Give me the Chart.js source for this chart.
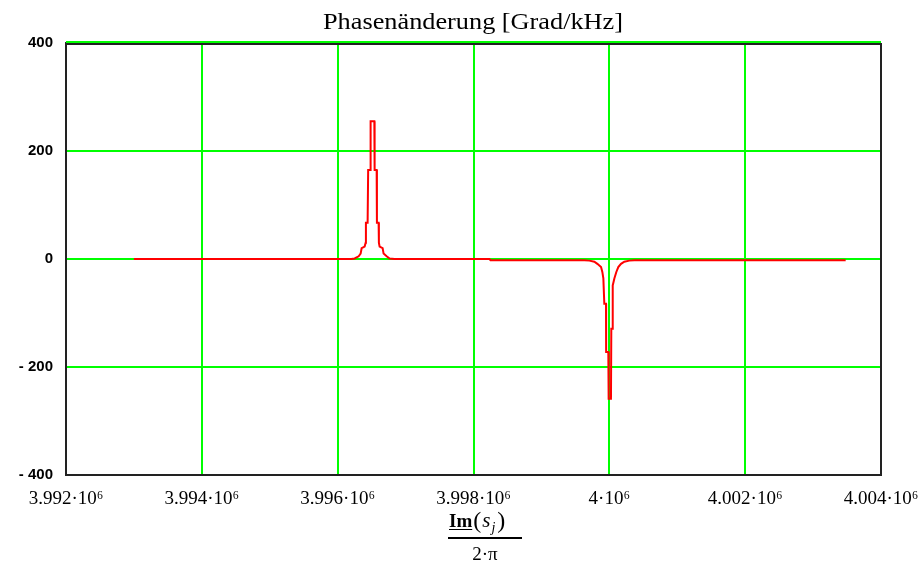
<!DOCTYPE html>
<html>
<head>
<meta charset="utf-8">
<script src="https://cdn.jsdelivr.net/npm/chart.js@4/dist/chart.umd.min.js"></script>
<style>
  html, body { margin: 0; padding: 0; background: #fff; }
  canvas { display: block; }
</style>
</head>
<body>
<canvas id="chart" width="920" height="570"></canvas>
<script>
const titleText = 'Phasenänderung [Grad/kHz]';
const xTicks = [3992000, 3994000, 3996000, 3998000, 4000000, 4002000, 4004000];
const xTickLabels = ['3.992·10⁶', '3.994·10⁶', '3.996·10⁶', '3.998·10⁶', '4·10⁶', '4.002·10⁶', '4.004·10⁶'];
const yTicks = [-400, -200, 0, 200, 400];
const yTickLabels = ['- 400', '- 200', '0', '200', '400'];

// Im(s_j)/(2*pi) in Hz, phase change in Grad/kHz
const freq = [
  3993000, 3996200, 3996250, 3996279, 3996309, 3996338, 3996353, 3996397, 3996412, 3996416,
  3996441, 3996449, 3996480, 3996485, 3996540, 3996544, 3996574, 3996578, 3996603, 3996607,
  3996618, 3996662, 3996676, 3996721, 3996765, 3996838, 3998235, 3998250, 3999632, 3999706,
  3999779, 3999824, 3999878, 3999897, 3999912, 3999926, 3999951, 3999953, 3999985, 3999990,
  4000024, 4000029, 4000048, 4000050, 4000074, 4000103, 4000132, 4000172, 4000221, 4000294,
  4000368, 4003480
];
const phase = [
  0, 0, 1, 3, 5, 10, 20, 23, 30, 67,
  67, 165, 165, 255, 255, 165, 165, 67, 67, 30,
  23, 20, 10, 5, 1, 0, 0, -2.5, -2.5, -3,
  -5, -9, -15, -24, -36, -83, -83, -172, -172, -259,
  -259, -129, -129, -49, -36, -24, -15, -9, -5, -3,
  -2.5, -2.5
];

const frame = {
  id: 'frame',
  afterDatasetsDraw(chart) {
    const { ctx, chartArea: a } = chart;
    ctx.save();
    ctx.strokeStyle = '#222';
    ctx.lineWidth = 2;
    ctx.beginPath();
    ctx.moveTo(a.left, a.top + 1);
    ctx.lineTo(a.right, a.top + 1);
    ctx.lineTo(a.right, a.bottom);
    ctx.stroke();
    ctx.strokeStyle = '#00ff00';
    ctx.beginPath();
    ctx.moveTo(a.left, a.top - 1);
    ctx.lineTo(a.right, a.top - 1);
    ctx.stroke();

    // title
    ctx.fillStyle = '#000';
    ctx.textBaseline = 'alphabetic';
    ctx.font = '24px "Liberation Serif"';
    const w = ctx.measureText(titleText).width;
    ctx.translate(473, 29);
    ctx.scale(300 / w, 1);
    ctx.textAlign = 'center';
    ctx.fillText(titleText, 0, 0);
    ctx.restore();

    // x axis title: Im(s_j) / (2·π)
    ctx.save();
    ctx.fillStyle = '#000';
    ctx.strokeStyle = '#000';
    ctx.textBaseline = 'alphabetic';
    ctx.textAlign = 'left';
    let x = 449;
    const base = 527;
    ctx.font = 'bold 19px "Liberation Serif"';
    ctx.fillText('Im', x, base);
    const imW = ctx.measureText('Im').width;
    ctx.lineWidth = 1;
    ctx.beginPath();
    ctx.moveTo(x, base + 2.5);
    ctx.lineTo(x + imW, base + 2.5);
    ctx.stroke();
    x += imW + 1;
    ctx.font = '24px "Liberation Serif"';
    ctx.fillText('(', x, base + 1);
    x += ctx.measureText('(').width + 1;
    ctx.font = 'italic 21px "Liberation Serif"';
    ctx.fillText('s', x, base);
    x += ctx.measureText('s').width + 1;
    ctx.font = 'italic 14px "Liberation Serif"';
    ctx.fillText('j', x, base + 5);
    x += ctx.measureText('j').width + 2;
    ctx.font = '24px "Liberation Serif"';
    ctx.fillText(')', x, base + 1);
    ctx.lineWidth = 2;
    ctx.beginPath();
    ctx.moveTo(448, 538);
    ctx.lineTo(522, 538);
    ctx.stroke();
    ctx.font = '19px "Liberation Serif"';
    ctx.textAlign = 'center';
    ctx.fillText('2·π', 485, 560);
    ctx.restore();
  }
};

new Chart(document.getElementById('chart'), {
  type: 'line',
  data: {
    datasets: [{
      data: freq.map((f, i) => ({ x: f, y: phase[i] })),
      borderColor: '#ff0000',
      borderWidth: 2,
      pointRadius: 0,
      tension: 0,
      fill: false
    }]
  },
  options: {
    responsive: false,
    animation: false,
    events: [],
    layout: { padding: { left: 0, top: 43, right: 39, bottom: 0 } },
    plugins: { legend: { display: false }, tooltip: { enabled: false }, title: { display: false } },
    scales: {
      x: {
        type: 'linear',
        min: 3992000,
        max: 4004000,
        afterBuildTicks: s => { s.ticks = xTicks.map(v => ({ value: v })); },
        afterFit: s => { s.height = 95; s.paddingLeft = 0; s.paddingRight = 0; },
        grid: { color: '#00ff00', lineWidth: 2, drawTicks: false },
        border: { color: '#222', width: 2 },
        ticks: {
          padding: 13,
          maxRotation: 0,
          autoSkip: false,
          color: '#000',
          font: { family: 'Liberation Serif', size: 19 },
          callback: v => xTickLabels[xTicks.indexOf(v)]
        }
      },
      y: {
        min: -400,
        max: 400,
        afterBuildTicks: s => { s.ticks = yTicks.map(v => ({ value: v })); },
        afterFit: s => { s.width = 66; s.paddingTop = 0; s.paddingBottom = 0; },
        grid: { color: '#00ff00', lineWidth: 2, drawTicks: false },
        border: { color: '#222', width: 2 },
        ticks: {
          padding: 13,
          color: '#000',
          font: { family: 'Liberation Sans', size: 15, weight: 'bold' },
          callback: v => yTickLabels[yTicks.indexOf(v)]
        }
      }
    }
  },
  plugins: [frame]
});
</script>
</body>
</html>
